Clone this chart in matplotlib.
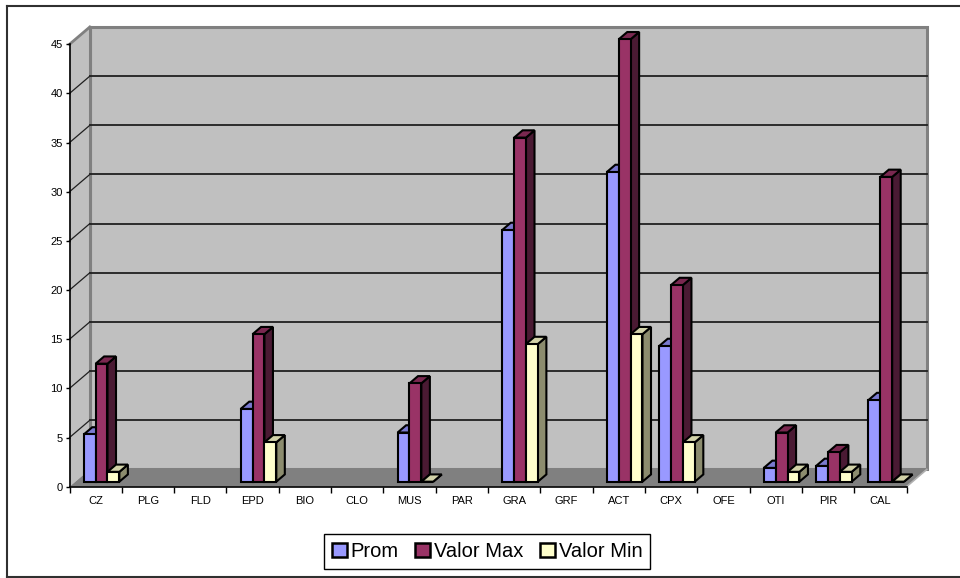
import numpy as np
import matplotlib
matplotlib.use("Agg")
import matplotlib.pyplot as plt
from matplotlib.patches import Polygon, Patch
from matplotlib.lines import Line2D

plt.rcParams['font.family'] = ['Liberation Sans', 'DejaVu Sans']

# ---- data -------------------------------------------------------------
categories = ["CZ", "PLG", "FLD", "EPD", "BIO", "CLO", "MUS", "PAR",
              "GRA", "GRF", "ACT", "CPX", "OFE", "OTI", "PIR", "CAL"]
nan = np.nan
prom      = [4.8, nan, nan, 7.4, nan, nan, 5.0, nan, 25.6, nan, 31.5, 13.8, nan, 1.4, 1.6, 8.3]
valor_max = [12,  nan, nan, 15,  nan, nan, 10,  nan, 35,   nan, 45,   20,   nan, 5,   3,   31]
valor_min = [1,   nan, nan, 4,   nan, nan, 0,   nan, 14,   nan, 15,   4,    nan, 1,   1,   0]

series_names = ["Prom", "Valor Max", "Valor Min"]
y_ticks = list(range(0, 50, 5))

# ---- styling ----------------------------------------------------------
front_colors = ["#9999FF", "#993366", "#FFFFCC"]
top_colors   = ["#7A7AD0", "#7A2850", "#D2D2A8"]
side_colors  = ["#4D4D80", "#4A1A33", "#8C8C6E"]
wall_color = "#C0C0C0"
floor_color = "#808080"

W, H = 960, 578
fig = plt.figure(figsize=(W / 100, H / 100), dpi=100)
fig.patch.set_facecolor("white")

x_left, x_right = 69.5, 906.5
y_zero, y_top = 486.7, 44.3
ax = fig.add_axes([x_left / W, 1 - y_zero / H, (x_right - x_left) / W, (y_zero - y_top) / H])
n = len(categories)
ymax = 45
ax.set_xlim(0, n)
ax.set_ylim(0, ymax)
ax.patch.set_visible(False)

# depth of the box in data units (oblique projection)
px_per_cat = (x_right - x_left) / n
px_per_val = (y_zero - y_top) / ymax
DX = 20.3 / px_per_cat
DY = 17.3 / px_per_val

# back wall
ax.add_patch(Polygon([(DX, DY), (n + DX, DY), (n + DX, ymax + DY), (DX, ymax + DY)],
                     closed=True, facecolor=wall_color, edgecolor="#808080",
                     lw=2.2, zorder=0, clip_on=False))
# left side wall
ax.add_patch(Polygon([(0, 0), (DX, DY), (DX, ymax + DY), (0, ymax)],
                     closed=True, facecolor=wall_color, edgecolor="none",
                     zorder=0, clip_on=False))
# floor
ax.add_patch(Polygon([(0, 0), (n, 0), (n + DX, DY), (DX, DY)],
                     closed=True, facecolor=floor_color, edgecolor="none",
                     zorder=0.5, clip_on=False))
ax.plot([n, n + DX], [0, DY], color="#B0B0B0", lw=1.2, zorder=0.6, clip_on=False)
ax.plot([0, DX], [ymax, ymax + DY], color="#808080", lw=2.0, zorder=0.6, clip_on=False)
ax.plot([DX, DX], [DY, ymax + DY], color="#808080", lw=2.2, zorder=0.6, clip_on=False)

# gridlines on back wall and left wall
for v in y_ticks[1:-1]:
    ax.plot([DX, n + DX], [v + DY, v + DY], color="#202020", lw=1.3, zorder=0.7, clip_on=False)
for v in y_ticks[1:-1]:
    ax.plot([0, DX], [v, v + DY], color="#202020", lw=0.9, zorder=0.7, clip_on=False)

# 3D columns
bar_w = 0.227
d0, d1 = 0.29, 0.71
all_series = [prom, valor_max, valor_min]
for s, vals in enumerate(all_series):
    z = 3 + 2 * s
    xs, hs = [], []
    for i, v in enumerate(vals):
        if np.isnan(v):
            continue
        xc = i + 0.5 + (s - 1) * bar_w
        x0 = xc - bar_w / 2 + d0 * DX
        x1 = xc + bar_w / 2 + d0 * DX
        ox, oy = (d1 - d0) * DX, (d1 - d0) * DY
        b = d0 * DY
        top = [(x0, v + b), (x1, v + b), (x1 + ox, v + b + oy), (x0 + ox, v + b + oy)]
        side = [(x1, b), (x1 + ox, b + oy), (x1 + ox, v + b + oy), (x1, v + b)]
        ax.add_patch(Polygon(side, closed=True, facecolor=side_colors[s], edgecolor="black",
                             lw=1.5, joinstyle="miter", zorder=z, clip_on=False))
        ax.add_patch(Polygon(top, closed=True, facecolor=top_colors[s], edgecolor="black",
                             lw=1.5, joinstyle="miter", zorder=z, clip_on=False))
        xs.append(xc + d0 * DX)
        hs.append(v)
    ax.bar(xs, hs, width=bar_w, bottom=d0 * DY, color=front_colors[s], edgecolor="black",
           linewidth=1.5, zorder=z + 1, clip_on=False)

# axes
for side in ("top", "right"):
    ax.spines[side].set_visible(False)
for side in ("left", "bottom"):
    ax.spines[side].set_color("black")
    ax.spines[side].set_linewidth(1.2)
    ax.spines[side].set_zorder(2)
ax.set_yticks(y_ticks)
ax.set_yticklabels([str(t) for t in y_ticks], fontsize=8)
ax.tick_params(axis="y", direction="out", length=3, width=1, pad=2, colors="black")
ax.set_xticks(np.arange(0, n + 1))
ax.set_xticklabels([])
ax.tick_params(axis="x", which="major", direction="out", length=4, width=1)
ax.set_xticks(np.arange(n) + 0.5, minor=True)
ax.set_xticklabels(categories, minor=True, fontsize=8)
ax.tick_params(axis="x", which="minor", length=0, pad=7)

# legend
handles = [Patch(facecolor=c, edgecolor="black", linewidth=1.8) for c in front_colors]
leg = fig.legend(handles, series_names, loc="center", ncol=3,
                 bbox_to_anchor=(487 / W, 1 - 551.5 / H), fontsize=14.5,
                 frameon=True, fancybox=False, framealpha=1, edgecolor="black",
                 handlelength=0.75, handleheight=0.75, handletextpad=0.2,
                 columnspacing=0.8, borderpad=0.4, borderaxespad=0)
leg.get_frame().set_linewidth(1.0)

# chart-area border
lc = "#303030"
fig.add_artist(Line2D([6.5 / W, 6.5 / W], [1 - 6 / H, 1 - 577 / H], color=lc, lw=1.5))
fig.add_artist(Line2D([6.5 / W, 1.0], [1 - 6 / H, 1 - 6 / H], color=lc, lw=1.5))
fig.add_artist(Line2D([6.5 / W, 1.0], [1 - 577 / H, 1 - 577 / H], color=lc, lw=1.5))

fig.savefig("out.png", dpi=100, facecolor="white")
